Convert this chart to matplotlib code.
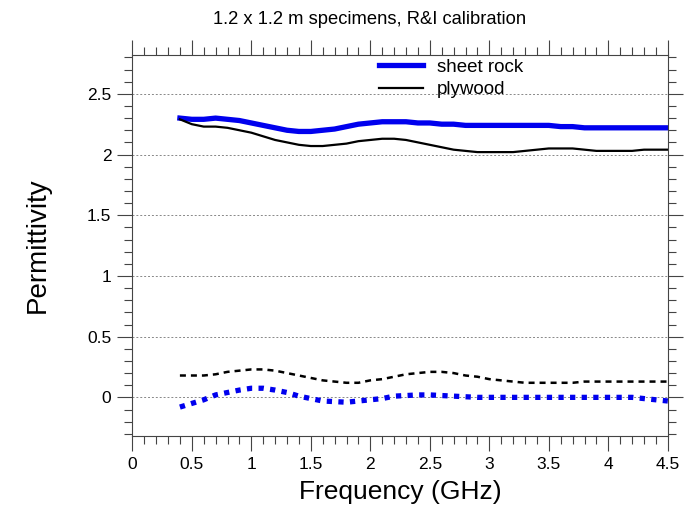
import matplotlib
matplotlib.use("Agg")
import matplotlib.pyplot as plt
from matplotlib.ticker import MultipleLocator

plt.rcParams["font.family"] = ["Liberation Sans", "DejaVu Sans"]

freq = [0.4, 0.5, 0.6, 0.7, 0.8, 0.9, 1.0, 1.1, 1.2, 1.3, 1.4, 1.5, 1.6, 1.7,
        1.8, 1.9, 2.0, 2.1, 2.2, 2.3, 2.4, 2.5, 2.6, 2.7, 2.8, 2.9, 3.0, 3.1,
        3.2, 3.3, 3.4, 3.5, 3.6, 3.7, 3.8, 3.9, 4.0, 4.1, 4.2, 4.3, 4.4, 4.5]

# real part
sheetrock_re = [2.30, 2.29, 2.29, 2.30, 2.29, 2.28, 2.26, 2.24, 2.22, 2.20, 2.19,
                2.19, 2.20, 2.21, 2.23, 2.25, 2.26, 2.27, 2.27, 2.27, 2.26, 2.26,
                2.25, 2.25, 2.24, 2.24, 2.24, 2.24, 2.24, 2.24, 2.24, 2.24, 2.23,
                2.23, 2.22, 2.22, 2.22, 2.22, 2.22, 2.22, 2.22, 2.22]
plywood_re = [2.29, 2.25, 2.23, 2.23, 2.22, 2.20, 2.18, 2.15, 2.12, 2.10, 2.08,
              2.07, 2.07, 2.08, 2.09, 2.11, 2.12, 2.13, 2.13, 2.12, 2.10, 2.08,
              2.06, 2.04, 2.03, 2.02, 2.02, 2.02, 2.02, 2.03, 2.04, 2.05, 2.05,
              2.05, 2.04, 2.03, 2.03, 2.03, 2.03, 2.04, 2.04, 2.04]

# imaginary part
sheetrock_im = [-0.08, -0.05, -0.02, 0.02, 0.04, 0.06, 0.075, 0.075, 0.06, 0.04,
                0.01, -0.01, -0.03, -0.035, -0.04, -0.03, -0.02, -0.01, 0.01,
                0.015, 0.02, 0.02, 0.015, 0.01, 0.005, 0.0, 0.0, 0.0, 0.0, 0.0,
                0.0, 0.0, 0.0, 0.0, 0.0, 0.0, 0.0, 0.0, 0.0, -0.01, -0.02, -0.03]
plywood_im = [0.18, 0.18, 0.18, 0.19, 0.21, 0.22, 0.23, 0.23, 0.22, 0.20, 0.18,
              0.16, 0.14, 0.13, 0.12, 0.12, 0.14, 0.15, 0.17, 0.19, 0.20, 0.21,
              0.21, 0.20, 0.18, 0.17, 0.15, 0.14, 0.13, 0.12, 0.12, 0.12, 0.12,
              0.12, 0.13, 0.13, 0.13, 0.13, 0.13, 0.13, 0.13, 0.13]

fig = plt.figure(figsize=(7, 5.09), dpi=100)
ax = fig.add_axes([0.189, 0.143, 0.765, 0.749])

ax.plot(freq, sheetrock_re, color="#0000ee", lw=3.8, label="sheet rock")
ax.plot(freq, plywood_re, color="black", lw=1.6, label="plywood")
ax.plot(freq, sheetrock_im, color="#0000ee", lw=3.8, dashes=(1, 1.2))
ax.plot(freq, plywood_im, color="black", lw=1.8, dashes=(2.4, 2))

ax.set_xlim(0, 4.5)
ax.set_ylim(-0.32, 2.82)
ax.xaxis.set_major_locator(MultipleLocator(0.5))
ax.xaxis.set_minor_locator(MultipleLocator(0.1))
ax.yaxis.set_major_locator(MultipleLocator(0.5))
ax.yaxis.set_minor_locator(MultipleLocator(0.1))
ax.xaxis.set_major_formatter(plt.FuncFormatter(lambda v, p: f"{v:g}"))
ax.yaxis.set_major_formatter(plt.FuncFormatter(lambda v, p: f"{v:g}"))

ax.tick_params(which="both", direction="out", top=True, right=True,
               color="#444444", width=0.8, labelsize=12.5, pad=4)
ax.tick_params(which="major", length=11)
ax.tick_params(which="minor", length=5.5)
for s in ax.spines.values():
    s.set_color("#444444")
    s.set_linewidth(0.8)

ax.grid(axis="y", which="major", linestyle=(0, (2, 2)), color="#888888", lw=0.7)

ax.set_xlabel("Frequency (GHz)", fontsize=19, labelpad=6)
ax.set_ylabel("Permittivity", fontsize=20, labelpad=26)
ax.set_title("1.2 x 1.2 m specimens, R&I calibration", fontsize=13.2, pad=22,
             x=0.444)

ax.legend(loc="upper left", bbox_to_anchor=(0.429, 1.035), frameon=False,
          fontsize=13.5, handlelength=2.35, labelspacing=0.3, handletextpad=0.75)

fig.savefig("out.png", dpi=100)
